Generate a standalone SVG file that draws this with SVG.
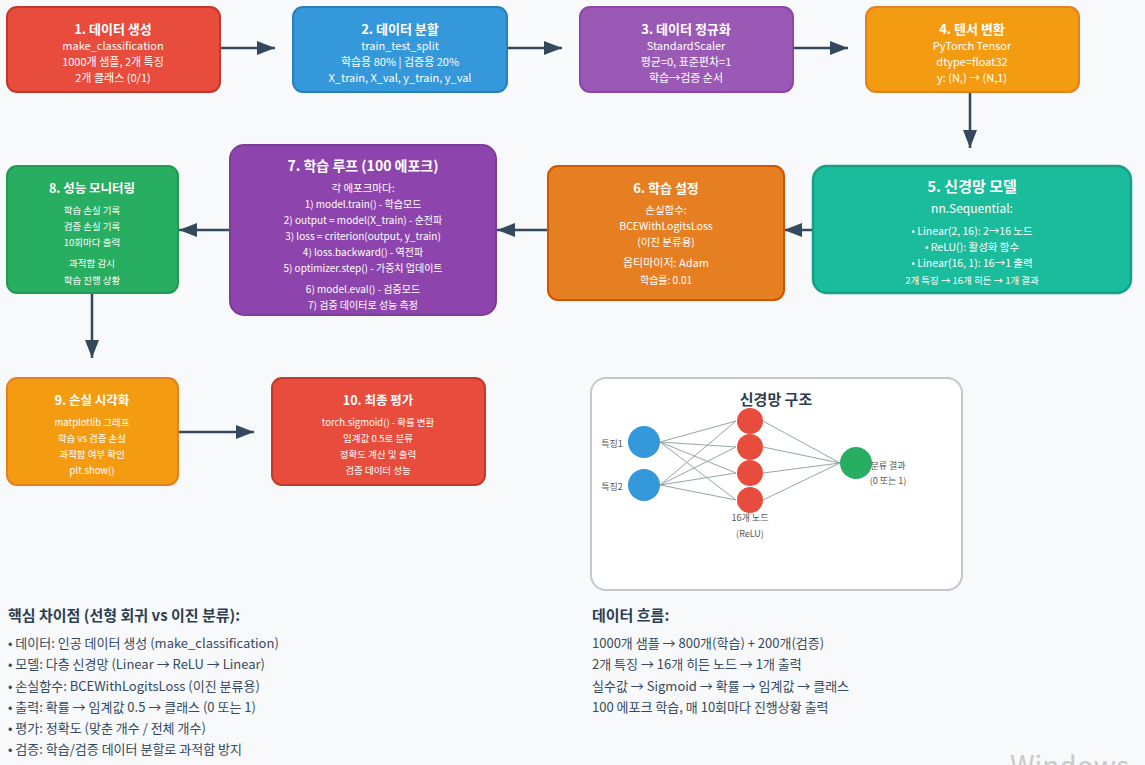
<svg xmlns="http://www.w3.org/2000/svg" width="1145" height="765" viewBox="0 0 1145 765">
<defs>
<marker id="ah" markerUnits="userSpaceOnUse" markerWidth="20" markerHeight="16" refX="18" refY="8" orient="auto">
<path d="M0,1 L18,8 L0,15 Z" fill="#34495e"/>
</marker>
<style>
text{font-family:"Noto Sans CJK KR","Noto Sans",sans-serif;}
.t{fill:#fff;font-weight:bold;text-anchor:middle;}
.s{fill:#fff;text-anchor:middle;}
.c{stroke:#34495e;stroke-width:2.5;fill:none;marker-end:url(#ah);}
.nl{stroke:#95a5a6;stroke-width:1;}
.lbl{fill:#555;font-size:9px;text-anchor:middle;}
.bt{fill:#2c3e50;font-weight:bold;font-size:15px;}
.bl{fill:#34495e;font-size:13px;}
</style>
</defs>
<rect width="1145" height="765" fill="#f8f9fa"/>

<g id="connectors">
<line class="c" x1="220" y1="48" x2="275" y2="48"/>
<line class="c" x1="507" y1="48" x2="562" y2="48"/>
<line class="c" x1="793" y1="48" x2="848" y2="48"/>
<line class="c" x1="970" y1="92" x2="970" y2="148"/>
<line class="c" x1="813" y1="230" x2="784" y2="230"/>
<line class="c" x1="548" y1="230" x2="497" y2="230"/>
<line class="c" x1="230" y1="230" x2="179" y2="230"/>
<line class="c" x1="92" y1="293" x2="92" y2="358"/>
<line class="c" x1="178" y1="432" x2="254" y2="432"/>
</g>

<g id="n1">
<rect x="7" y="7" width="213" height="85" rx="10" fill="#e74c3c" stroke="#c0392b" stroke-width="2"/>
<text class="t" x="113" y="34" font-size="13">1. 데이터 생성</text>
<text class="s" x="113" y="50" font-size="11">make_classification</text>
<text class="s" x="113" y="66" font-size="11">1000개 샘플, 2개 특징</text>
<text class="s" x="113" y="82" font-size="11">2개 클래스 (0/1)</text>
</g>
<g id="n2">
<rect x="293" y="7" width="214" height="85" rx="10" fill="#3498db" stroke="#2980b9" stroke-width="2"/>
<text class="t" x="400" y="34" font-size="13">2. 데이터 분할</text>
<text class="s" x="400" y="50" font-size="11">train_test_split</text>
<text class="s" x="400" y="66" font-size="11">학습용 80% | 검증용 20%</text>
<text class="s" x="400" y="82" font-size="11">X_train, X_val, y_train, y_val</text>
</g>
<g id="n3">
<rect x="580" y="7" width="213" height="85" rx="10" fill="#9b59b6" stroke="#8e44ad" stroke-width="2"/>
<text class="t" x="686" y="34" font-size="13">3. 데이터 정규화</text>
<text class="s" x="686" y="50" font-size="11">StandardScaler</text>
<text class="s" x="686" y="66" font-size="11">평균=0, 표준편차=1</text>
<text class="s" x="686" y="82" font-size="11">학습→검증 순서</text>
</g>
<g id="n4">
<rect x="866" y="7" width="213" height="85" rx="10" fill="#f39c12" stroke="#e67e22" stroke-width="2"/>
<text class="t" x="972" y="34" font-size="13">4. 텐서 변환</text>
<text class="s" x="972" y="50" font-size="11">PyTorch Tensor</text>
<text class="s" x="972" y="66" font-size="11">dtype=float32</text>
<text class="s" x="972" y="82" font-size="11">y: (N,) → (N,1)</text>
</g>

<g id="n5">
<rect x="813" y="166" width="318" height="127" rx="14" fill="#1abc9c" stroke="#16a085" stroke-width="2.5"/>
<text class="t" x="972" y="192" font-size="15">5. 신경망 모델</text>
<text class="s" x="972" y="213" font-size="12">nn.Sequential:</text>
<text class="s" x="972" y="235" font-size="10.5">• Linear(2, 16): 2→16 노드</text>
<text class="s" x="972" y="251" font-size="10.5">• ReLU(): 활성화 함수</text>
<text class="s" x="972" y="267" font-size="10.5">• Linear(16, 1): 16→1 출력</text>
<text class="s" x="972" y="284" font-size="9.5">2개 특징 → 16개 히든 → 1개 결과</text>
</g>
<g id="n6">
<rect x="548" y="166" width="236" height="134" rx="10" fill="#e67e22" stroke="#d35400" stroke-width="2"/>
<text class="t" x="666" y="193" font-size="13">6. 학습 설정</text>
<text class="s" x="666" y="214" font-size="10.5">손실함수:</text>
<text class="s" x="666" y="230" font-size="10.5">BCEWithLogitsLoss</text>
<text class="s" x="666" y="246" font-size="10.5">(이진 분류용)</text>
<text class="s" x="666" y="267" font-size="11">옵티마이저: Adam</text>
<text class="s" x="666" y="284" font-size="10">학습률: 0.01</text>
</g>
<g id="n7">
<rect x="230" y="145" width="266" height="170" rx="14" fill="#8e44ad" stroke="#7d3c98" stroke-width="2"/>
<text class="t" x="363" y="171" font-size="14">7. 학습 루프 (100 에포크)</text>
<text class="s" x="363" y="192" font-size="10.5">각 에포크마다:</text>
<text class="s" x="363" y="208" font-size="10">1) model.train() - 학습모드</text>
<text class="s" x="363" y="224" font-size="10">2) output = model(X_train) - 순전파</text>
<text class="s" x="363" y="240" font-size="10">3) loss = criterion(output, y_train)</text>
<text class="s" x="363" y="256" font-size="10">4) loss.backward() - 역전파</text>
<text class="s" x="363" y="272" font-size="10">5) optimizer.step() - 가중치 업데이트</text>
<text class="s" x="363" y="293" font-size="10">6) model.eval() - 검증모드</text>
<text class="s" x="363" y="309" font-size="10">7) 검증 데이터로 성능 측정</text>
</g>
<g id="n8">
<rect x="7" y="166" width="171" height="127" rx="10" fill="#27ae60" stroke="#229954" stroke-width="2"/>
<text class="t" x="92" y="193" font-size="12.5">8. 성능 모니터링</text>
<text class="s" x="92" y="214" font-size="9.5">학습 손실 기록</text>
<text class="s" x="92" y="230" font-size="9.5">검증 손실 기록</text>
<text class="s" x="92" y="246" font-size="9.5">10회마다 출력</text>
<text class="s" x="92" y="267" font-size="9.5">과적합 감시</text>
<text class="s" x="92" y="284" font-size="9.5">학습 진행 상황</text>
</g>

<g id="n9">
<rect x="7" y="378" width="171" height="107" rx="10" fill="#f39c12" stroke="#e67e22" stroke-width="2"/>
<text class="t" x="92" y="405" font-size="12.5">9. 손실 시각화</text>
<text class="s" x="92" y="426" font-size="9.5">matplotlib 그래프</text>
<text class="s" x="92" y="442" font-size="9.5">학습 vs 검증 손실</text>
<text class="s" x="92" y="458" font-size="9.5">과적합 여부 확인</text>
<text class="s" x="92" y="474" font-size="9.5">plt.show()</text>
</g>
<g id="n10">
<rect x="272" y="378" width="213" height="107" rx="10" fill="#e74c3c" stroke="#c0392b" stroke-width="2"/>
<text class="t" x="378" y="405" font-size="12.5">10. 최종 평가</text>
<text class="s" x="378" y="426" font-size="9.5">torch.sigmoid() - 확률 변환</text>
<text class="s" x="378" y="442" font-size="9.5">임계값 0.5로 분류</text>
<text class="s" x="378" y="458" font-size="9.5">정확도 계산 및 출력</text>
<text class="s" x="378" y="474" font-size="9.5">검증 데이터 성능</text>
</g>

<g id="nn-panel">
<rect x="591" y="378" width="371" height="212" rx="15" fill="#fff" stroke="#c4c8cc" stroke-width="2"/>
<text x="776" y="405" font-size="15" font-weight="bold" fill="#2c3e50" text-anchor="middle">신경망 구조</text>
<g>
<line class="nl" x1="660" y1="442" x2="736" y2="421"/>
<line class="nl" x1="660" y1="442" x2="736" y2="447"/>
<line class="nl" x1="660" y1="442" x2="736" y2="473"/>
<line class="nl" x1="660" y1="442" x2="736" y2="500"/>
<line class="nl" x1="660" y1="485" x2="736" y2="421"/>
<line class="nl" x1="660" y1="485" x2="736" y2="447"/>
<line class="nl" x1="660" y1="485" x2="736" y2="473"/>
<line class="nl" x1="660" y1="485" x2="736" y2="500"/>
<line class="nl" x1="763" y1="421" x2="840" y2="463"/>
<line class="nl" x1="763" y1="447" x2="840" y2="463"/>
<line class="nl" x1="763" y1="473" x2="840" y2="463"/>
<line class="nl" x1="763" y1="500" x2="840" y2="463"/>
</g>
<circle cx="644" cy="442" r="16" fill="#3498db"/>
<circle cx="644" cy="485" r="16" fill="#3498db"/>
<circle cx="750" cy="421" r="13" fill="#e74c3c"/>
<circle cx="750" cy="447" r="13" fill="#e74c3c"/>
<circle cx="750" cy="473" r="13" fill="#e74c3c"/>
<circle cx="750" cy="500" r="13" fill="#e74c3c"/>
<circle cx="856" cy="463" r="16" fill="#27ae60"/>
<text class="lbl" x="612" y="447">특징1</text>
<text class="lbl" x="612" y="490">특징2</text>
<text class="lbl" x="750" y="521">16개 노드</text>
<text class="lbl" x="750" y="537">(ReLU)</text>
<text class="lbl" x="888" y="469">분류 결과</text>
<text class="lbl" x="888" y="484">(0 또는 1)</text>
</g>

<g id="notes-left">
<text class="bt" x="8" y="621">핵심 차이점 (선형 회귀 vs 이진 분류):</text>
<text class="bl" x="8" y="648">• 데이터: 인공 데이터 생성 (make_classification)</text>
<text class="bl" x="8" y="669">• 모델: 다층 신경망 (Linear → ReLU → Linear)</text>
<text class="bl" x="8" y="691">• 손실함수: BCEWithLogitsLoss (이진 분류용)</text>
<text class="bl" x="8" y="712">• 출력: 확률 → 임계값 0.5 → 클래스 (0 또는 1)</text>
<text class="bl" x="8" y="733">• 평가: 정확도 (맞춘 개수 / 전체 개수)</text>
<text class="bl" x="8" y="754">• 검증: 학습/검증 데이터 분할로 과적합 방지</text>
</g>
<g id="notes-right">
<text class="bt" x="592" y="621">데이터 흐름:</text>
<text class="bl" x="592" y="648">1000개 샘플 → 800개(학습) + 200개(검증)</text>
<text class="bl" x="592" y="669">2개 특징 → 16개 히든 노드 → 1개 출력</text>
<text class="bl" x="592" y="691">실수값 → Sigmoid → 확률 → 임계값 → 클래스</text>
<text class="bl" x="592" y="712">100 에포크 학습, 매 10회마다 진행상황 출력</text>
</g>
<text x="1010" y="776" font-size="28" fill="#c9cacc" font-family="'Noto Sans','Segoe UI',sans-serif">Windows</text>
</svg>
